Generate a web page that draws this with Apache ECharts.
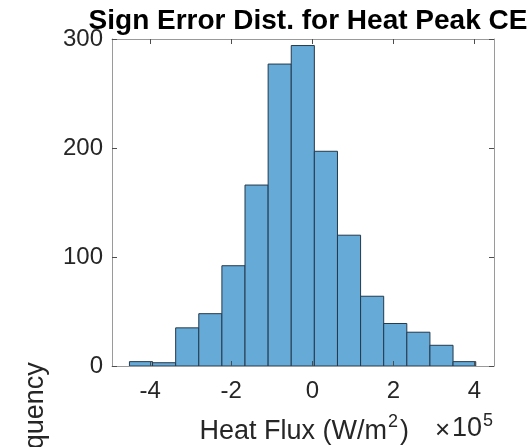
<!DOCTYPE html>
<html>
<head>
<meta charset="utf-8">
<script src="https://cdn.jsdelivr.net/npm/echarts@6/dist/echarts.min.js"></script>
<style>
html,body{margin:0;padding:0;background:#fff;}
#c{width:531px;height:447px;}
</style>
</head>
<body>
<div id="c"></div>
<script>
// Histogram bin edges (in units of 1e5 W/m^2) and counts
const binEdges = [-4.51, -3.94, -3.37, -2.80, -2.23, -1.66, -1.09, -0.52, 0.05, 0.62, 1.19, 1.76, 2.33, 2.90, 3.47, 4.03];
const counts = [4, 3, 35, 48, 92, 166, 277, 294, 197, 120, 64, 39, 31, 19, 4];
const xTicks = [-4, -2, 0, 2, 4];
const yTicks = [0, 100, 200, 300];
const titleText = 'Sign Error Dist. for Heat Peak CE';
const yLabel = 'Frequency';

const FONT = '"Liberation Sans", Arial, Helvetica, sans-serif';
const TXT = '#262626';
const AXC = '#9a9a9a';
const TKC = '#4d4d4d';

const data = counts.map((c, i) => [binEdges[i], binEdges[i + 1], c]);

const chart = echarts.init(document.getElementById('c'), null, {renderer: 'canvas'});

const xCommon = {
  type: 'value', min: -4.94, max: 4.48, z: 5,
  splitLine: {show: false},
  axisLine: {show: true, onZero: false, lineStyle: {color: AXC, width: 1}},
  axisTick: {show: true, inside: true, length: 5, customValues: xTicks, lineStyle: {color: TKC, width: 1}}
};
const yCommon = {
  type: 'value', min: 0, max: 300, interval: 100, z: 5,
  splitLine: {show: false},
  axisLine: {show: true, onZero: false, lineStyle: {color: AXC, width: 1}},
  axisTick: {show: true, inside: true, length: 5, lineStyle: {color: TKC, width: 1}}
};

function txt(text, x, y, size, align, extra) {
  return Object.assign({
    type: 'text', x: x, y: y,
    style: {text: text, textAlign: align, textVerticalAlign: 'middle', fontFamily: FONT, fontSize: size, fill: TXT}
  }, extra || {});
}

chart.setOption({
  backgroundColor: '#fff',
  animation: false,
  title: {
    text: titleText, left: 303, top: 2, textAlign: 'center',
    textStyle: {fontFamily: FONT, fontSize: 28, fontWeight: 'bold', color: '#000'}
  },
  grid: {left: 112, right: 37, top: 39, bottom: 81, containLabel: false},
  xAxis: [
    Object.assign({}, xCommon, {
      position: 'bottom',
      axisLabel: {show: true, customValues: xTicks, margin: 13, fontFamily: FONT, fontSize: 24, color: TXT}
    }),
    Object.assign({}, xCommon, {position: 'top', axisLabel: {show: false}})
  ],
  yAxis: [
    Object.assign({}, yCommon, {
      position: 'left',
      axisLabel: {show: true, margin: 9, fontFamily: FONT, fontSize: 24, color: TXT}
    }),
    Object.assign({}, yCommon, {position: 'right', axisLabel: {show: false}})
  ],
  series: [{
    type: 'custom',
    xAxisIndex: 0, yAxisIndex: 0,
    encode: {x: [0, 1], y: 2},
    data: data,
    renderItem: function (params, api) {
      const p0 = api.coord([api.value(0), api.value(2)]);
      const p1 = api.coord([api.value(1), 0]);
      return {
        type: 'rect',
        shape: {x: p0[0], y: p0[1], width: p1[0] - p0[0], height: p1[1] - p0[1]},
        style: {fill: '#66aad7', stroke: '#24394c', lineWidth: 1}
      };
    }
  }],
  graphic: [
    txt('Heat Flux (W/m', 387, 432, 27, 'right'),
    txt('2', 388, 422, 18, 'left'),
    txt(')', 400, 432, 27, 'left'),
    txt('×', 435, 431, 26, 'left'),
    txt('10', 452, 429, 27, 'left'),
    txt('5', 483, 421, 18, 'left'),
    txt(yLabel, 36, 426, 27, 'center', {rotation: Math.PI / 2})
  ]
});
</script>
</body>
</html>
